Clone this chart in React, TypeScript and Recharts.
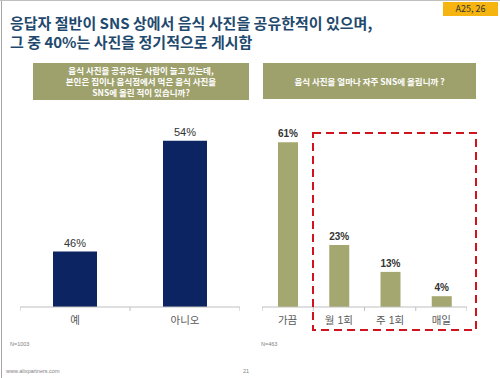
import React from 'react'
import { BarChart, Bar, XAxis, YAxis, LabelList } from 'recharts'

// 왼쪽: SNS 음식 사진 공유 경험
const shareCategories = ['예', '아니오']
const shareValues = [46, 54]

// 오른쪽: SNS 게시 빈도
const freqCategories = ['가끔', '월 1회', '주 1회', '매일']
const freqValues = [61, 23, 13, 4]

const FONT = '"Liberation Sans", Arial, "Noto Sans CJK KR", sans-serif'
const KFONT = '"Noto Sans CJK KR", "Malgun Gothic", sans-serif'

const shareData = shareCategories.map((name, i) => ({ name, value: shareValues[i] }))
const freqData = freqCategories.map((name, i) => ({ name, value: freqValues[i] }))

function CategoryTick(props: any) {
  const { x, y, payload, index, count } = props
  const half = payload && payload.offset ? payload.offset : 0
  return (
    <g>
      <line x1={x - half} y1={y} x2={x - half} y2={y + 4} stroke="#BFBFBF" />
      {index === count - 1 && (
        <line x1={x + half} y1={y} x2={x + half} y2={y + 4} stroke="#BFBFBF" />
      )}
      <text x={x} y={y + 17} textAnchor="middle" fontSize={10.5} fill="#595959" fontFamily={FONT}>
        {payload.value}
      </text>
    </g>
  )
}

const headerStyle: React.CSSProperties = {
  position: 'absolute',
  background: '#9EA16C',
  color: '#fff',
  fontFamily: KFONT,
  fontSize: 8.5,
  fontWeight: 700,
  lineHeight: '11px',
  textAlign: 'center',
  display: 'flex',
  flexDirection: 'column',
  justifyContent: 'center',
}

const smallText: React.CSSProperties = {
  position: 'absolute',
  fontFamily: FONT,
  fontSize: 5.5,
  color: '#7F7F7F',
}

export default function App() {
  return (
    <div
      style={{
        position: 'absolute',
        left: 0,
        top: 0,
        width: 500,
        height: 378,
        background: '#fff',
        overflow: 'hidden',
      }}
    >
      <div style={{ position: 'absolute', left: 1, top: 0, width: 1, height: 378, background: '#A6A6A6' }} />
      <div style={{ position: 'absolute', left: 0, top: 0, width: 500, height: 1, background: '#BFBFBF' }} />

      <div
        style={{
          position: 'absolute',
          left: 443,
          top: 2,
          width: 55,
          height: 14,
          background: '#F5B40F',
          color: '#333',
          fontFamily: KFONT,
          fontSize: 9,
          lineHeight: '14px',
          textAlign: 'center',
        }}
      >
        A25, 26
      </div>

      <div
        style={{
          position: 'absolute',
          left: 10,
          top: 13,
          fontFamily: KFONT,
          fontSize: 15,
          fontWeight: 700,
          lineHeight: '19px',
          color: '#1F4A6E',
          whiteSpace: 'nowrap',
        }}
      >
        응답자 절반이 SNS 상에서 음식 사진을 공유한적이 있으며,
        <br />
        그 중 40%는 사진을 정기적으로 게시함
      </div>

      <div style={{ ...headerStyle, left: 33, top: 63, width: 216, height: 37 }}>
        <div>음식 사진을 공유하는 사람이 늘고 있는데,</div>
        <div>본인은 집이나 음식점에서 먹은 음식 사진을</div>
        <div>SNS에 올린 적이 있습니까?</div>
      </div>
      <div style={{ ...headerStyle, left: 263, top: 63, width: 213, height: 36 }}>
        <div>음식 사진을 얼마나 자주 SNS에 올립니까 ?</div>
      </div>

      <div style={{ position: 'absolute', left: 20, top: 100 }}>
        <BarChart
          width={220}
          height={235}
          data={shareData}
          margin={{ top: 13, right: 0, bottom: 0, left: 0 }}
        >
          <XAxis
            dataKey="name"
            height={28}
            axisLine={{ stroke: '#BFBFBF' }}
            tickLine={false}
            tickSize={0}
            tickMargin={0}
            interval={0}
            tick={(p: any) => <CategoryTick {...p} count={shareData.length} />}
          />
          <YAxis hide domain={[42, 56]} />
          <Bar dataKey="value" fill="#0C2461" barSize={44} isAnimationActive={false}>
            <LabelList
              dataKey="value"
              position="top"
              offset={5}
              formatter={(v: any) => `${v}%`}
              style={{ fontSize: 11, fill: '#333', fontFamily: FONT }}
            />
          </Bar>
        </BarChart>
      </div>

      <div style={{ position: 'absolute', left: 262, top: 100 }}>
        <BarChart
          width={205}
          height={235}
          data={freqData}
          margin={{ top: 18, right: 0, bottom: 0, left: 0 }}
        >
          <XAxis
            dataKey="name"
            height={28}
            axisLine={{ stroke: '#BFBFBF' }}
            tickLine={false}
            tickSize={0}
            tickMargin={0}
            interval={0}
            tick={(p: any) => <CategoryTick {...p} count={freqData.length} />}
          />
          <YAxis hide domain={[0, 70]} />
          <Bar dataKey="value" fill="#A4A76F" barSize={20} isAnimationActive={false}>
            <LabelList
              dataKey="value"
              position="top"
              offset={5}
              formatter={(v: any) => `${v}%`}
              style={{ fontSize: 10, fill: '#333', fontFamily: FONT, fontWeight: 700 }}
            />
          </Bar>
        </BarChart>
      </div>

      <svg style={{ position: 'absolute', left: 0, top: 0 }} width={500} height={378}>
        <rect
          x={313}
          y={133}
          width={163}
          height={197}
          fill="none"
          stroke="#D0141E"
          strokeWidth={2}
          strokeDasharray="8 5"
        />
      </svg>

      <div style={{ ...smallText, left: 10, top: 341 }}>N=1003</div>
      <div style={{ ...smallText, left: 261, top: 341 }}>N=463</div>
      <div style={{ ...smallText, left: 6, top: 368 }}>www.alixpartners.com</div>
      <div style={{ ...smallText, left: 243, top: 368 }}>21</div>
    </div>
  )
}
